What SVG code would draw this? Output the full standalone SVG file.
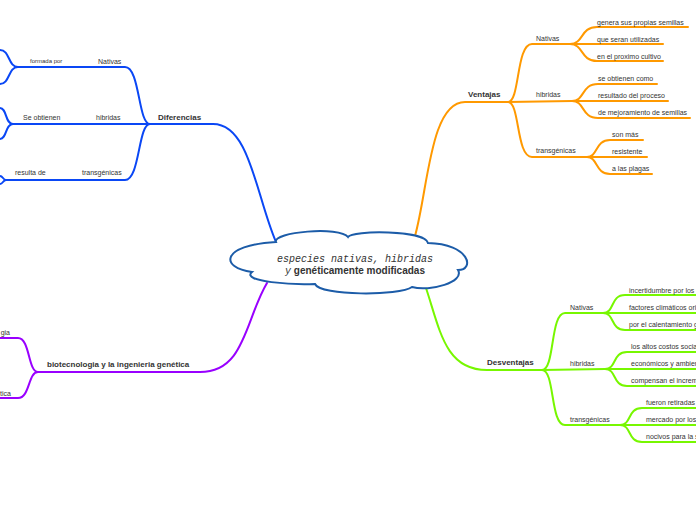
<svg xmlns="http://www.w3.org/2000/svg" width="696" height="520" viewBox="0 0 696 520">
<style>
.c{fill:none;stroke-width:2;stroke-linecap:round}
.b{stroke:#0a47f5}.o{stroke:#ff9900}.g{stroke:#77f700}.p{stroke:#9900ff}
text{font-family:"Liberation Sans",Arial,sans-serif;fill:#333}
.t{font-size:7px}
.s{font-size:6px}
.h{font-size:8px;font-weight:bold}
.m{font-family:"Liberation Mono","Courier New",monospace;font-style:italic;font-size:10px}
</style>
<rect width="696" height="520" fill="#fff"/>
<g id="connectors">
<!-- blue -->
<path class="c b" d="M276 242 C256 196 250 124 213 124 L150 124"/>
<path class="c b" d="M150 124 C138 124 140 67 125 67 L18 67"/>
<path class="c b" d="M150 124 L13 124"/>
<path class="c b" d="M150 124 C138 124 140 180 125 180 L6 180"/>
<path class="c b" d="M18 67 C8 67 10 50 0 50"/>
<path class="c b" d="M18 67 C8 67 10 84 0 84"/>
<path class="c b" d="M13 124 C5 124 7 108 0 108"/>
<path class="c b" d="M13 124 C5 124 7 139 0 139"/>
<path class="c b" d="M6 180 C3 180 3 176 0 176"/>
<path class="c b" d="M6 180 C3 180 3 184 0 184"/>
<!-- purple -->
<path class="c p" d="M267 283 C245 320 245 372 200 372 L38 372"/>
<path class="c p" d="M38 372 C28 372 30 338 18 338 L0 338"/>
<path class="c p" d="M38 372 C28 372 30 398 18 398 L0 398"/>
<!-- orange -->
<path class="c o" d="M415 236 C428 190 430 102 465 102 L508 102"/>
<path class="c o" d="M508 102 C520 102 516 44 532 44 L570 44"/>
<path class="c o" d="M508 102 L572 101"/>
<path class="c o" d="M508 102 C520 102 516 157 532 157 L587 157"/>
<path class="c o" d="M570 44 C584 44 580 27 597 27 L688 27"/>
<path class="c o" d="M570 44 L663 44"/>
<path class="c o" d="M570 44 C584 44 580 61 597 61 L663 61"/>
<path class="c o" d="M572 101 C585 101 581 84 598 84 L657 84"/>
<path class="c o" d="M572 101 L668 101"/>
<path class="c o" d="M572 101 C585 101 581 118 598 118 L690 118"/>
<path class="c o" d="M587 157 C598 157 595 140 610 140 L643 140"/>
<path class="c o" d="M587 157 L647 157"/>
<path class="c o" d="M587 157 C598 157 595 174 610 174 L652 174"/>
<!-- green -->
<path class="c g" d="M426 288 C440 330 445 370 487 370 L542 370"/>
<path class="c g" d="M542 370 C555 370 550 313 565 313 L603 313"/>
<path class="c g" d="M542 370 L605 369"/>
<path class="c g" d="M542 370 C555 370 550 425 565 425 L620 425"/>
<path class="c g" d="M603 313 C615 313 610 295 625 295 L696 295"/>
<path class="c g" d="M603 313 L696 313"/>
<path class="c g" d="M603 313 C615 313 610 330 625 330 L696 330"/>
<path class="c g" d="M605 369 C617 369 612 352 627 352 L696 352"/>
<path class="c g" d="M605 369 L696 369"/>
<path class="c g" d="M605 369 C617 369 612 386 627 386 L696 386"/>
<path class="c g" d="M620 425 C632 425 627 408 642 408 L696 408"/>
<path class="c g" d="M620 425 L696 425"/>
<path class="c g" d="M620 425 C632 425 627 442 642 442 L696 442"/>
</g>
<g id="center">
<path d="M276 242 C272 232 340 226 348 237 C352 230 425 230 428 243 C470 244 475 270 458 270 C465 282 430 292 412 287 C400 296 320 296 315 284 C295 285 240 282 252 272 C220 268 220 245 276 242 Z" fill="#fff" stroke="#1c5ca8" stroke-width="2"/>
<text class="m" x="355" y="262" text-anchor="middle">especies nativas, hibridas</text>
<text x="285" y="274" style="font-size:10px"><tspan class="m">y</tspan><tspan font-weight="bold"> genéticamente modificadas</tspan></text>
</g>
<g id="diferencias"><text class="h" x="158" y="120">Diferencias</text></g>
<g id="d-nativas"><text class="t" x="98" y="63.5">Nativas</text></g>
<g id="d-formada"><text class="s" x="30" y="63">formada por</text></g>
<g id="d-hibridas"><text class="t" x="96" y="119.5">hibridas</text></g>
<g id="d-obtienen"><text class="t" x="23" y="119.5">Se obtienen</text></g>
<g id="d-transgenicas"><text class="t" x="82" y="175">transgénicas</text></g>
<g id="d-resulta"><text class="t" x="15" y="175">resulta de</text></g>
<g id="bio"><text class="h" x="47" y="367">biotecnologia y la ingenieria genética</text></g>
<g id="bio-1"><text class="t" x="10" y="334.5" text-anchor="end">gia</text></g>
<g id="bio-2"><text class="t" x="11" y="395.5" text-anchor="end">tica</text></g>
<g id="ventajas"><text class="h" x="468" y="97">Ventajas</text></g>
<g id="v-nativas"><text class="t" x="536" y="40.5">Nativas</text></g>
<g id="v-n1"><text class="t" x="597" y="24.5">genera sus propias semillas</text></g>
<g id="v-n2"><text class="t" x="597" y="41.5">que seran utilizadas</text></g>
<g id="v-n3"><text class="t" x="597" y="58.5">en el proximo cultivo</text></g>
<g id="v-hibridas"><text class="t" x="536" y="97">hibridas</text></g>
<g id="v-h1"><text class="t" x="598" y="80.5">se obtienen como</text></g>
<g id="v-h2"><text class="t" x="598" y="97.5">resultado del proceso</text></g>
<g id="v-h3"><text class="t" x="598" y="114.5">de mejoramiento de semillas</text></g>
<g id="v-transgenicas"><text class="t" x="536" y="153">transgénicas</text></g>
<g id="v-t1"><text class="t" x="612" y="136.5">son más</text></g>
<g id="v-t2"><text class="t" x="612" y="153.5">resistente</text></g>
<g id="v-t3"><text class="t" x="612" y="170.5">a las plagas</text></g>
<g id="desventajas"><text class="h" x="487" y="365">Desventajas</text></g>
<g id="ds-nativas"><text class="t" x="570" y="309.5">Nativas</text></g>
<g id="ds-n1"><text class="t" x="629" y="292.5">incertidumbre por los</text></g>
<g id="ds-n2"><text class="t" x="629" y="309.5">factores climáticos ori</text></g>
<g id="ds-n3"><text class="t" x="629" y="326.5">por el calentamiento g</text></g>
<g id="ds-hibridas"><text class="t" x="570" y="365.5">hibridas</text></g>
<g id="ds-h1"><text class="t" x="631" y="348.5">los altos costos socia</text></g>
<g id="ds-h2"><text class="t" x="631" y="365.5">económicos y ambien</text></g>
<g id="ds-h3"><text class="t" x="631" y="382.5">compensan el increm</text></g>
<g id="ds-transgenicas"><text class="t" x="570" y="421.5">transgénicas</text></g>
<g id="ds-t1"><text class="t" x="646" y="404.5">fueron retiradas</text></g>
<g id="ds-t2"><text class="t" x="646" y="421.5">mercado por los</text></g>
<g id="ds-t3"><text class="t" x="646" y="438.5">nocivos para la s</text></g>
</svg>
